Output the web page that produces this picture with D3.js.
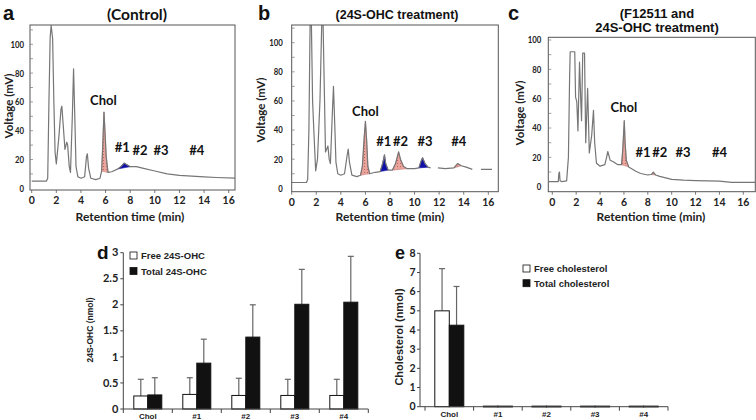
<!DOCTYPE html>
<html><head><meta charset="utf-8">
<script src="https://cdn.jsdelivr.net/npm/d3@7"></script>
<style>html,body{margin:0;padding:0;background:#fff}svg{display:block}</style>
</head><body>
<svg id="c" width="756" height="420"></svg>
<script>
// ---------- DATA ----------
// Chromatograms: [retention time (min), voltage (mV)], null = gap in trace
const traceControl = [[0,5],[1.2,5],[1.3,7],[1.4,60],[1.5,105],[1.58,113],[1.7,104],[1.8,60],[1.9,25],[2.0,17],[2.2,35],[2.38,55],[2.45,57],[2.55,45],[2.7,27],[2.85,32],[2.92,30],[3.05,15],[3.15,11],[3.3,50],[3.4,83],[3.5,50],[3.6,15],[3.75,8],[4.0,7],[4.3,8],[4.45,22],[4.52,24],[4.62,14],[4.8,7],[5.2,6],[5.55,7],[5.68,12],[5.78,32],[5.87,53],[5.95,40],[6.05,22],[6.2,11],[6.5,11.5],[7.0,13.5],[7.3,15.5],[7.5,17.5],[7.7,16.5],[8.0,15],[8.5,15],[9.0,14],[10,12],[11,10],[12,9],[13,8.5],[14,8],[15,7.5],[16.5,7]];
const fillsControl = [[5.6,6.25,"red"],[7.0,8.0,"blue"]];

const traceOHC = [[0,4],[1.2,4],[1.3,6],[1.4,40],[1.5,115],[1.6,115],[1.7,60],[1.8,40],[1.95,12],[2.1,20],[2.3,60],[2.45,115],[2.55,115],[2.65,70],[2.75,25],[2.85,27],[2.95,29],[3.05,20],[3.15,17],[3.3,50],[3.4,70],[3.5,45],[3.6,18],[3.75,10],[4.0,9],[4.3,10],[4.5,22],[4.6,27],[4.7,18],[4.9,9],[5.3,8],[5.6,9],[5.75,15],[5.9,35],[6.0,46],[6.1,33],[6.2,15],[6.35,10],[6.8,11],[7.2,11.5],[7.4,17],[7.55,23],[7.65,17],[7.85,12.5],[8.2,12.5],[8.45,17],[8.7,25],[8.85,20],[9.1,15],[9.4,13.5],[10,13.5],[10.35,14],[10.5,18],[10.65,21],[10.85,17],[11.1,14.5],[11.3,14],null,[11.9,14],[12.5,13.5],[13.2,14],[13.5,17],[13.8,15.5],[14.2,14.5],[14.7,13],null,[15.4,13],[16.3,13]];
const fillsOHC = [[5.6,6.35,"red"],[7.2,7.85,"blue"],[8.2,9.4,"red"],[10.35,11.1,"blue"],[13.2,13.9,"red"]];

const traceF12511 = [[-0.3,3.5],[0.5,3.5],[0.55,9],[0.6,10],[0.65,4],[0.8,3.5],[1.2,4],[1.35,20],[1.45,75],[1.5,92],[1.88,92],[1.95,61],[2.05,58],[2.15,38],[2.28,85],[2.38,60],[2.45,45],[2.55,91],[2.7,91],[2.8,30],[2.96,67],[3.1,23],[3.3,35],[3.45,52],[3.55,30],[3.7,16],[4.0,14],[4.4,15],[4.55,20],[4.65,24],[4.85,18],[5.1,17],[5.5,15],[5.8,15],[5.9,25],[6.03,45],[6.1,30],[6.2,18],[6.4,13.5],[7.0,10.5],[7.4,9],[8.0,8],[8.3,8.3],[8.46,10],[8.65,8],[9,7],[10,5],[11,4.5],[12,4.2],[13,4],[14,3.8],[15,3],[16,3],[17,3]];
const fillsF12511 = [[5.75,6.45,"red"],[7.1,7.7,"blue"],[8.3,8.65,"red"],[16.3,17,"blue"]];

const peakLabels = ["Chol","#1","#2","#3","#4"];
// label anchor positions [time, mV]
const labelPosControl = [[5.82,58],[7.35,25],[8.8,23],[10.5,23],[13.4,23]];
const labelPosOHC = [[6.0,50],[7.5,29],[8.85,29],[10.85,29],[13.6,29]];
const labelPosF12511 = [[6.0,51],[7.6,20.5],[9.0,20.5],[10.95,20.5],[14.0,20.5]];

const xTicks = [0,2,4,6,8,10,12,14,16];
const yTicks = [0,20,40,60,80,100];

// Bar charts
const categories = ["Chol","#1","#2","#3","#4"];
const free24 = [0.25,0.28,0.26,0.26,0.26];
const free24Err = [0.57,0.60,0.59,0.57,0.57];
const total24 = [0.27,0.88,1.38,2.01,2.05];
const total24Err = [0.60,1.34,2.00,2.68,2.93];
const dTicks = [0,0.5,1,1.5,2,2.5,3];

const freeChol = [5.0,0.03,0.03,0.03,0.03];
const freeCholErr = [7.2,null,null,null,null];
const totalChol = [4.25,0.03,0.03,0.03,0.03];
const totalCholErr = [6.27,null,null,null,null];
const eTicks = [0,1,2,3,4,5,6,7,8];

// ---------- DRAW ----------
const svg = d3.select("#c");
const FB = "Lato, 'Open Sans', sans-serif";
const FA = "'Liberation Sans', Arial, sans-serif";

const defs = svg.append("defs");
const pat = defs.append("pattern").attr("id","redpat").attr("width",3).attr("height",3).attr("patternUnits","userSpaceOnUse");
pat.append("rect").attr("width",3).attr("height",3).attr("fill","#eaa49c");
pat.append("rect").attr("x",1).attr("y",1).attr("width",1).attr("height",1).attr("fill","#b86860");

function chrom(cfg, idx) {
  const x = d3.scaleLinear().domain([0,16]).range(cfg.xr);
  const y = d3.scaleLinear().domain([0,100]).range(cfg.yr);
  const [fx0,fy0,fx1,fy1] = cfg.frame;
  const g = svg.append("g");
  defs.append("clipPath").attr("id","clip"+idx).append("rect")
    .attr("x",fx0).attr("y",fy0).attr("width",fx1-fx0).attr("height",fy1-fy0);
  const inner = g.append("g").attr("clip-path","url(#clip"+idx+")");
  const valid = cfg.trace.filter(d => d);
  cfg.fills.forEach(f => {
    const pts = valid.filter(d => d[0] >= f[0] && d[0] <= f[1]);
    const a = pts[0], b = pts[pts.length-1];
    const base = t => a[1] + (b[1]-a[1]) * (t - a[0]) / (b[0]-a[0] || 1);
    const area = d3.area().x(d => x(d[0])).y0(d => y(base(d[0]))).y1(d => y(d[1]));
    inner.append("path").datum(pts).attr("d",area)
      .attr("fill", f[2]==="red" ? "url(#redpat)" : "#1010a8")
      .attr("stroke", f[2]==="red" ? "#c87a72" : "#1010a8").attr("stroke-width",0.6);
  });
  const line = d3.line().defined(d => d).x(d => x(d[0])).y(d => y(d[1]));
  inner.append("path").datum(cfg.trace).attr("d",line).attr("fill","none")
    .attr("stroke","#767676").attr("stroke-width",1.2).attr("stroke-linejoin","round");
  g.append("rect").attr("x",fx0).attr("y",fy0).attr("width",fx1-fx0).attr("height",fy1-fy0)
    .attr("fill","none").attr("stroke","#555").attr("stroke-width",1);
  d3.range(10,111,10).forEach(v => { if (y(v) > fy0+1) g.append("line").attr("x1",fx0).attr("x2",fx0+3).attr("y1",y(v)).attr("y2",y(v)).attr("stroke","#777").attr("stroke-width",0.7); });
  xTicks.forEach(t => g.append("line").attr("x1",x(t)).attr("x2",x(t)).attr("y1",fy1).attr("y2",fy1+3).attr("stroke","#555").attr("stroke-width",0.8));
  xTicks.forEach(t => g.append("text").attr("x",x(t)).attr("y",fy1+14).attr("text-anchor","middle")
    .attr("font-family",FB).attr("font-weight","bold").attr("font-size",10.5).attr("fill","#222").text(t));
  yTicks.forEach(v => g.append("text")
    .attr("transform",`translate(${fx0-cfg.yLabOff},${y(v)+3.4}) scale(0.78,1)`).attr("text-anchor","end")
    .attr("font-family",FB).attr("font-weight","bold").attr("font-size",10).attr("fill","#222").text(v));
  g.append("text").attr("transform",`translate(${cfg.yTitle[0]},${cfg.yTitle[1]}) rotate(-90)`).attr("text-anchor","middle")
    .attr("font-family",FB).attr("font-weight","bold").attr("font-size",11.5).attr("fill","#222").text("Voltage (mV)");
  g.append("text").attr("x",cfg.xTitle[0]).attr("y",cfg.xTitle[1]).attr("text-anchor","middle")
    .attr("font-family",FB).attr("font-weight","bold").attr("font-size",12).attr("fill","#222").text("Retention time (min)");
  peakLabels.forEach((l,i) => g.append("text").attr("x",x(cfg.labels[i][0])).attr("y",y(cfg.labels[i][1])).attr("text-anchor","middle")
    .attr("font-family",FB).attr("font-weight","bold").attr("font-size",13).attr("fill","#111").text(l));
  cfg.title.forEach(t => g.append("text").attr("x",t[1]).attr("y",t[2]).attr("text-anchor","middle")
    .attr("font-family",t[4]).attr("font-weight","bold").attr("font-size",t[3]).attr("fill","#111").text(t[0]));
  g.append("text").attr("x",cfg.letter[0]).attr("y",cfg.letter[1]).attr("font-family",FA).attr("font-weight","bold")
    .attr("font-size",20).attr("fill","#111").text(cfg.letter[2]);
}

chrom({trace:traceControl, fills:fillsControl, labels:labelPosControl,
  xr:[31.7,228.7], yr:[188.3,44.3], frame:[30,25,235,190], yLabOff:6,
  yTitle:[13,106], xTitle:[130,221],
  title:[["(Control)",137,20,15.5,FB]], letter:[3,20,"a"]}, 0);
chrom({trace:traceOHC, fills:fillsOHC, labels:labelPosOHC,
  xr:[291.7,488.3], yr:[188.3,42.7], frame:[291.7,25,498.3,191.7], yLabOff:9,
  yTitle:[265,110], xTitle:[390,221],
  title:[["(24S-OHC treatment)",397,19,12.5,FA]], letter:[258,20,"b"]}, 1);
chrom({trace:traceF12511, fills:fillsF12511, labels:labelPosF12511,
  xr:[552.3,743.3], yr:[186.7,40], frame:[548.3,37.3,755.3,191.7], yLabOff:7,
  yTitle:[524,113], xTitle:[651,221],
  title:[["(F12511 and",657,18,13,FA],["24S-OHC treatment)",657,32,13,FA]], letter:[508,20,"c"]}, 2);

function bars(cfg) {
  const g = svg.append("g");
  const y = d3.scaleLinear().domain(cfg.ydom).range(cfg.yr);
  const xb = d3.scaleBand().domain(categories).range(cfg.xr);
  const bw = cfg.bw;
  const x0 = cfg.axisX, y0 = cfg.yr[0];
  categories.forEach((c,i) => {
    const cx = xb(c) + xb.bandwidth()/2;
    [[cfg.free[i],cfg.freeErr[i],"#fff",cx-bw],[cfg.total[i],cfg.totalErr[i],"#111",cx]].forEach(([v,e,col,bx]) => {
      if (e != null) {
        g.append("line").attr("x1",bx+bw/2).attr("x2",bx+bw/2).attr("y1",y(v)).attr("y2",y(e)).attr("stroke","#666").attr("stroke-width",1.2);
        g.append("line").attr("x1",bx+bw/2-3).attr("x2",bx+bw/2+3).attr("y1",y(e)).attr("y2",y(e)).attr("stroke","#666").attr("stroke-width",1.2);
      }
      g.append("rect").attr("x",bx).attr("y",y(v)).attr("width",bw).attr("height",Math.max(0.8,y0-y(v)))
        .attr("fill",col).attr("stroke","#111").attr("stroke-width",1);
    });
    g.append("text").attr("x",cx).attr("y",y0+10).attr("text-anchor","middle").attr("font-family",FA)
      .attr("font-weight","bold").attr("font-size",8).attr("fill","#222").text(c);
  });
  g.append("line").attr("x1",x0).attr("x2",x0).attr("y1",y0).attr("y2",cfg.yr[1]).attr("stroke","#444").attr("stroke-width",1);
  g.append("line").attr("x1",x0).attr("x2",cfg.xr[1]).attr("y1",y0).attr("y2",y0).attr("stroke","#444").attr("stroke-width",1);
  cfg.ticks.forEach(v => {
    g.append("line").attr("x1",x0-3).attr("x2",x0).attr("y1",y(v)).attr("y2",y(v)).attr("stroke","#444");
    g.append("text").attr("x",x0-cfg.tickOff).attr("y",y(v)+3.6).attr("text-anchor","end").attr("font-family",FB)
      .attr("font-weight","bold").attr("font-size",cfg.tickFs).attr("fill","#222").text(v);
  });
  categories.forEach(c => g.append("line").attr("x1",xb(c)+xb.bandwidth()).attr("x2",xb(c)+xb.bandwidth())
    .attr("y1",y0).attr("y2",y0+4).attr("stroke","#444"));
  g.append("line").attr("x1",cfg.xr[0]).attr("x2",cfg.xr[0]).attr("y1",y0).attr("y2",y0+4).attr("stroke","#444");
  g.append("text").attr("transform",`translate(${cfg.yTitle[0]},${cfg.yTitle[1]}) rotate(-90)`).attr("text-anchor","middle")
    .attr("font-family",FA).attr("font-weight","bold").attr("font-size",cfg.yTitle[3]).attr("fill","#222").text(cfg.yTitle[2]);
  cfg.legend.forEach((l,i) => {
    g.append("rect").attr("x",cfg.legPos[0]).attr("y",cfg.legPos[1]+i*cfg.legPos[2]-4).attr("width",7).attr("height",7)
      .attr("fill",i===0?"#fff":"#111").attr("stroke","#111").attr("stroke-width",0.8);
    g.append("text").attr("x",cfg.legPos[0]+11).attr("y",cfg.legPos[1]+i*cfg.legPos[2]+3.2).attr("font-family",FA)
      .attr("font-weight","bold").attr("font-size",9.5).attr("fill","#222").text(l);
  });
  g.append("text").attr("x",cfg.letter[0]).attr("y",cfg.letter[1]).attr("font-family",FA).attr("font-weight","bold")
    .attr("font-size",cfg.letter[3]).attr("fill","#111").text(cfg.letter[2]);
}

bars({ydom:[0,3], yr:[409,252.7], xr:[123.3,368.3], axisX:123.3, bw:14,
  free:free24, freeErr:free24Err, total:total24, totalErr:total24Err, ticks:dTicks, tickOff:5, tickFs:11,
  yTitle:[93,330,"24S-OHC (nmol)",8.5], legend:["Free 24S-OHC","Total 24S-OHC"], legPos:[130,256,15.5], letter:[97,259,"d",19]});
bars({ydom:[0,8], yr:[406.7,253.3], xr:[425,668], axisX:420, bw:14.5,
  free:freeChol, freeErr:freeCholErr, total:totalChol, totalErr:totalCholErr, ticks:eTicks, tickOff:4.5, tickFs:10.5,
  yTitle:[403,337,"Cholesterol (nmol)",11], legend:["Free cholesterol","Total cholesterol"], legPos:[523,269,14.7], letter:[395,259,"e",18]});
</script>
</body></html>
